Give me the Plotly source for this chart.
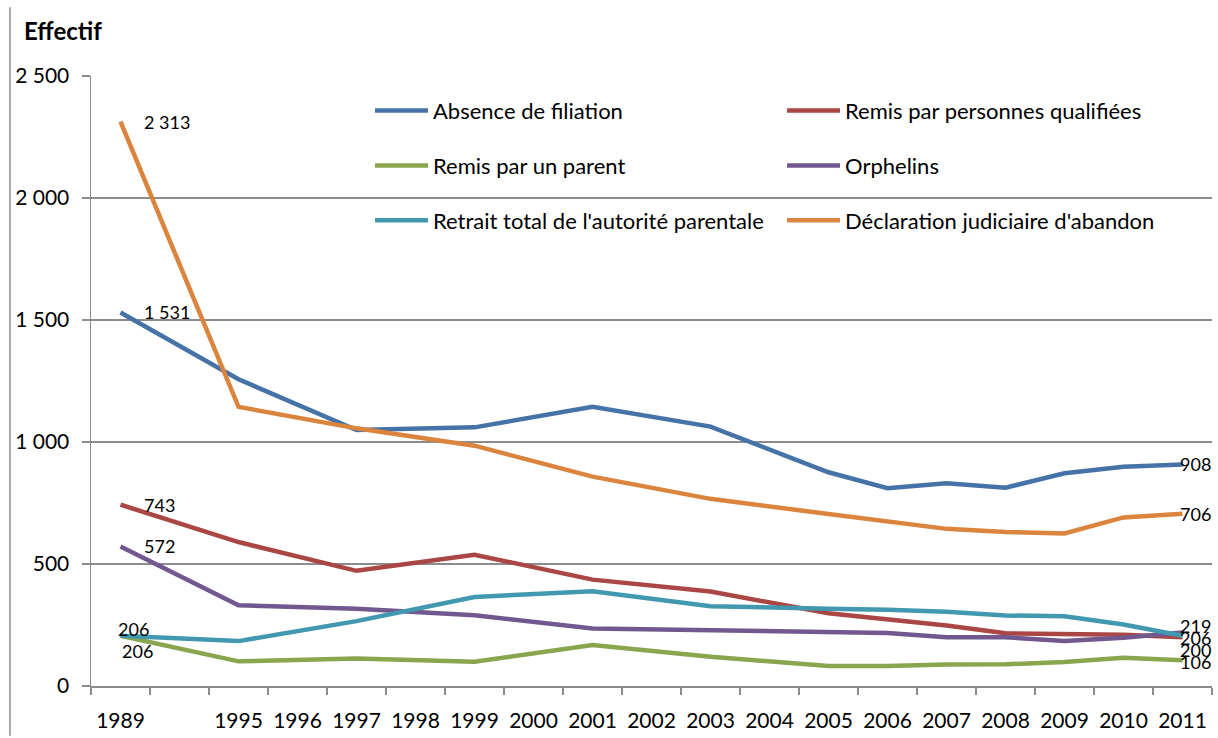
import plotly.graph_objects as go

# ---- data ----
axis_categories = ["1989", "\u00a0", "1995", "1996", "1997", "1998", "1999", "2000", "2001",
                   "2002", "2003", "2004", "2005", "2006", "2007", "2008", "2009", "2010", "2011"]
years = ["1989", "1995", "1997", "1999", "2001", "2003", "2005", "2006", "2007", "2008", "2009", "2010", "2011"]

absence_filiation = [1531, 1257, 1049, 1060, 1144, 1063, 876, 811, 831, 813, 872, 899, 908]
remis_personnes_qualifiees = [743, 590, 472, 538, 436, 387, 298, 272, 248, 216, 213, 210, 200]
remis_parent = [206, 101, 113, 99, 168, 120, 82, 82, 88, 89, 98, 116, 106]
orphelins = [572, 331, 317, 290, 236, 228, 218, 217, 200, 200, 184, 198, 219]
retrait_autorite = [206, 184, 266, 365, 388, 327, 317, 313, 304, 289, 286, 252, 206]
declaration_abandon = [2313, 1144, 1056, 985, 858, 767, 705, 674, 644, 631, 625, 691, 706]

series_names = ["Absence de filiation", "Remis par personnes qualifiées", "Remis par un parent",
                "Orphelins", "Retrait total de l'autorité parentale", "Déclaration judiciaire d'abandon"]
series_values = [absence_filiation, remis_personnes_qualifiees, remis_parent,
                 orphelins, retrait_autorite, declaration_abandon]
colors = ["#4572A7", "#AA4643", "#89A54E", "#71588F", "#4198AF", "#DB843D"]

y_ticks = [0, 500, 1000, 1500, 2000, 2500]
y_ticktext = ["0", "500", "1 000", "1 500", "2 000", "2 500"]


def fmt(v):
    return f"{v:,}".replace(",", " ")


FONT = "Lato, 'Open Sans', sans-serif"
fig = go.Figure()
legend_keys = ["legend", "legend", "legend2", "legend2", "legend3", "legend3"]
for name, vals, col, lk in zip(series_names, series_values, colors, legend_keys):
    fig.add_trace(go.Scatter(x=years, y=vals, name=name, mode="lines",
                             line=dict(color=col, width=4.5), legend=lk,
                             hoverinfo="skip"))

first_idx = axis_categories.index(years[0])
last_idx = axis_categories.index(years[-1])

annotations = []
# labels at 1989 (first point)
first_label_shift = {0: (21, 0), 1: (21, 0), 2: (-1, -15), 3: (21, 0), 4: (-5, 7), 5: (21, 0)}
for i, vals in enumerate(series_values):
    xs, ys = first_label_shift[i]
    annotations.append(dict(x=first_idx, y=vals[0], xref="x", yref="y", text=fmt(vals[0]),
                            showarrow=False, xanchor="left", yanchor="middle",
                            xshift=xs, yshift=ys, font=dict(family=FONT, size=18, color="#000")))
# labels at 2011 (last point)
last_label_shift = {0: 0, 1: -13, 2: -2, 3: 7, 4: -2, 5: 0}
for i, vals in enumerate(series_values):
    annotations.append(dict(x=last_idx, y=vals[-1], xref="x", yref="y", text=fmt(vals[-1]),
                            showarrow=False, xanchor="left", yanchor="middle",
                            xshift=-5, yshift=last_label_shift[i],
                            font=dict(family=FONT, size=18, color="#000")))
# axis title
annotations.append(dict(x=-0.0616, y=1.0752, xref="paper", yref="paper", text="<b>Effectif</b>",
                        showarrow=False, xanchor="left", yanchor="middle",
                        font=dict(family=FONT, size=24, color="#000")))

legend_common = dict(orientation="h", xanchor="left", yanchor="middle",
                     entrywidth=344, entrywidthmode="pixels", itemwidth=53,
                     bgcolor="rgba(0,0,0,0)", traceorder="normal",
                     font=dict(family=FONT, size=22, color="#000"))

LEG_X = 0.2489
fig.update_layout(
    width=1218, height=738,
    margin=dict(l=91, r=6, t=76, b=50),
    paper_bgcolor="white", plot_bgcolor="white",
    font=dict(family=FONT, size=20, color="#000"),
    showlegend=True,
    hovermode=False,
    legend=dict(x=LEG_X, y=0.943, **legend_common),
    legend2=dict(x=LEG_X, y=0.853, **legend_common),
    legend3=dict(x=LEG_X, y=0.763, **legend_common),
    annotations=annotations,
    shapes=[dict(type="line", xref="paper", yref="paper", x0=-0.0723, x1=-0.0723,
                 y0=-0.0817, y1=1.1127, line=dict(color="#8C8C8C", width=1.5))],
    xaxis=dict(type="category", categoryorder="array", categoryarray=axis_categories,
               range=[-0.5, 18.5], tickson="boundaries", ticks="outside", ticklen=7,
               tickcolor="#8C8C8C", tickwidth=1.5, showline=True, linecolor="#8C8C8C",
               linewidth=1.5, showgrid=False, ticklabelstandoff=15,
               tickfont=dict(family=FONT, size=21, color="#000"), fixedrange=True),
    yaxis=dict(range=[0, 2500], tickvals=y_ticks, ticktext=y_ticktext, ticks="outside",
               ticklen=8, tickcolor="#8C8C8C", tickwidth=1.5, showline=True,
               linecolor="#8C8C8C", linewidth=1.5, showgrid=True, gridcolor="#8C8C8C",
               gridwidth=1.5, zeroline=False, ticklabelstandoff=8,
               tickfont=dict(family=FONT, size=21, color="#000"), fixedrange=True),
)

fig.write_html("out.html", config={"displayModeBar": False, "staticPlot": True},
               post_script="document.body.style.margin='0px';document.body.style.overflow='hidden';")
